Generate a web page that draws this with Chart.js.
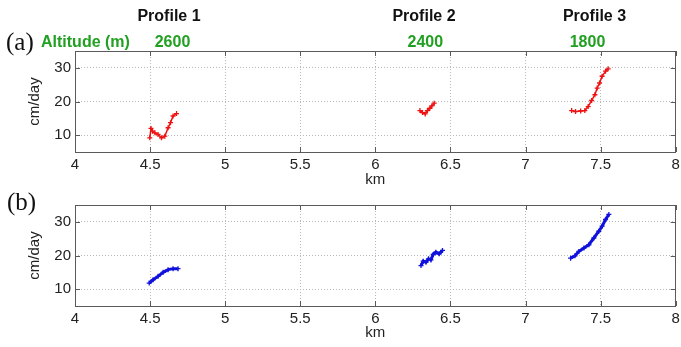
<!DOCTYPE html>
<html><head><meta charset="utf-8">
<script src="https://cdn.jsdelivr.net/npm/chart.js"></script>
<style>
body{margin:0;background:#fff;width:681px;height:347px;overflow:hidden;position:relative}
canvas{position:absolute;left:0}
#c1{top:0}
#c2{top:190px}
</style></head>
<body>
<canvas id="c1" width="681" height="190" style="width:681px;height:190px"></canvas>
<canvas id="c2" width="681" height="157" style="width:681px;height:157px"></canvas>
<script>
// ---- data (km, cm/day) ----
const profileNames = ['Profile 1', 'Profile 2', 'Profile 3'];
const altitudes = ['2600', '2400', '1800'];
const xTicks = [4, 4.5, 5, 5.5, 6, 6.5, 7, 7.5, 8];
const yTicks = [10, 20, 30];

const a1x = [4.498, 4.506, 4.516, 4.532, 4.553, 4.576, 4.598, 4.62, 4.636, 4.653, 4.676];
const a1y = [9.2, 12.0, 11.2, 10.7, 10.2, 9.2, 9.7, 12.2, 13.7, 15.7, 16.4];
const a2x = [6.297, 6.314, 6.332, 6.347, 6.363, 6.376, 6.392];
const a2y = [17.3, 16.7, 16.3, 17.3, 18.0, 18.7, 19.5];
const a3x = [7.307, 7.333, 7.367, 7.395, 7.417, 7.44, 7.462, 7.477, 7.493, 7.51, 7.533, 7.55];
const a3y = [17.3, 17.0, 17.2, 17.3, 18.5, 20.3, 22.0, 24.0, 25.5, 27.5, 29.0, 29.7];

const b1x = [4.494, 4.52, 4.553, 4.587, 4.62, 4.653, 4.686];
const b1y = [11.8, 12.8, 13.8, 15.0, 15.8, 16.1, 16.1];
const b2x = [6.304, 6.319, 6.337, 6.354, 6.37, 6.385, 6.403, 6.425, 6.447];
const b2y = [17.0, 18.3, 18.0, 19.0, 18.7, 20.3, 21.0, 20.5, 21.5];
const b3x = [7.30, 7.329, 7.355, 7.389, 7.422, 7.455, 7.488, 7.51, 7.533, 7.555];
const b3y = [19.2, 19.9, 21.2, 22.2, 23.2, 25.2, 27.2, 28.7, 30.7, 32.2];

const pts = (xs, ys) => xs.map((x, i) => ({x: x, y: ys[i]}));

function ds(xs, ys, color, lw, pr) {
  return {data: pts(xs, ys), borderColor: color, backgroundColor: color,
    borderWidth: lw, pointStyle: 'cross', pointRadius: pr, pointBorderWidth: 1.3,
    showLine: true, tension: 0, fill: false};
}

const framePlugin = {
  id: 'frame',
  afterDatasetsDraw(chart) {
    const {ctx, chartArea: a, scales} = chart;
    ctx.save();
    ctx.strokeStyle = '#5a5a5a';
    ctx.lineWidth = 1;
    ctx.strokeRect(Math.round(a.left) + 0.5, Math.round(a.top) + 0.5,
      Math.round(a.right - a.left) - 1, Math.round(a.bottom - a.top));
    ctx.beginPath();
    xTicks.forEach(v => {
      const px = Math.round(scales.x.getPixelForValue(v)) + 0.5;
      ctx.moveTo(px, a.bottom); ctx.lineTo(px, a.bottom - 5);
      ctx.moveTo(px, a.top); ctx.lineTo(px, a.top + 5);
    });
    yTicks.forEach(v => {
      const py = Math.round(scales.y.getPixelForValue(v)) + 0.5;
      ctx.moveTo(a.left, py); ctx.lineTo(a.left + 5, py);
      ctx.moveTo(a.right, py); ctx.lineTo(a.right - 5, py);
    });
    ctx.stroke();
    ctx.restore();
  }
};

function textPlugin(items) {
  return {
    id: 'texts',
    afterDraw(chart) {
      const ctx = chart.ctx;
      ctx.save();
      items.forEach(t => {
        ctx.font = t.font; ctx.fillStyle = t.color;
        ctx.textAlign = t.align; ctx.textBaseline = 'middle';
        ctx.fillText(t.text, t.x, t.y);
      });
      ctx.restore();
    }
  };
}

const fontFam = '"Liberation Sans", Arial, sans-serif';

function makeChart(id, datasets, topPad, xHeight, titlePadBottom, texts) {
  return new Chart(document.getElementById(id), {
    type: 'scatter',
    data: {datasets: datasets},
    options: {
      responsive: false, animation: false,
      layout: {padding: {top: topPad, right: 0, left: 0, bottom: 0}},
      plugins: {legend: {display: false}, tooltip: {enabled: false}},
      scales: {
        x: {
          type: 'linear', min: 4, max: 8,
          afterFit: s => { s.height = xHeight; s.paddingRight = 4; s.paddingLeft = 0; },
          afterBuildTicks: s => { s.ticks = xTicks.map(v => ({value: v})); },
          grid: {color: '#b8b8b8', lineWidth: 1, drawTicks: false},
          border: {display: false, dash: [1, 2]},
          ticks: {autoSkip: false, maxRotation: 0, padding: 4, color: '#222',
                  font: {family: fontFam, size: 15},
                  callback: v => String(v)},
          title: {display: true, text: 'km', color: '#222',
                  font: {family: fontFam, size: 15},
                  padding: {top: 0, bottom: titlePadBottom}}
        },
        y: {
          type: 'linear', min: 5, max: 35,
          afterFit: s => { s.width = 75; },
          afterBuildTicks: s => { s.ticks = yTicks.map(v => ({value: v})); },
          grid: {color: '#b8b8b8', lineWidth: 1, drawTicks: false},
          border: {display: false, dash: [1, 2]},
          ticks: {padding: 4, color: '#222',
                  font: {family: fontFam, size: 15}},
          title: {display: true, text: 'cm/day', color: '#222',
                  font: {family: fontFam, size: 15},
                  padding: {top: 26, bottom: 0}}
        }
      }
    },
    plugins: [framePlugin, textPlugin(texts)]
  });
}

const bold = 'bold 16px ' + fontFam;
const green = '#22a022';
const texts1 = [
  {text: '(a)', x: 6, y: 43, font: '25px "Liberation Serif", "Times New Roman", serif', color: '#111', align: 'left'},
  {text: 'Altitude (m)', x: 41, y: 43, font: bold, color: green, align: 'left'},
  {text: profileNames[0], x: 169, y: 17, font: bold, color: '#111', align: 'center'},
  {text: profileNames[1], x: 424, y: 17, font: bold, color: '#111', align: 'center'},
  {text: profileNames[2], x: 594.5, y: 17, font: bold, color: '#111', align: 'center'},
  {text: altitudes[0], x: 172.5, y: 43, font: bold, color: green, align: 'center'},
  {text: altitudes[1], x: 425.3, y: 43, font: bold, color: green, align: 'center'},
  {text: altitudes[2], x: 587.5, y: 43, font: bold, color: green, align: 'center'}
];
const texts2 = [
  {text: '(b)', x: 7, y: 13, font: '25px "Liberation Serif", "Times New Roman", serif', color: '#111', align: 'left'}
];

const red = '#ee1111', blue = '#1111dd';
new Chart.constructor; // no-op reference
makeChart('c1', [ds(a1x, a1y, red, 1.5, 2.5), ds(a2x, a2y, red, 1.5, 2.5), ds(a3x, a3y, red, 1.5, 2.5)], 51, 38, 1, texts1);
makeChart('c2', [ds(b1x, b1y, blue, 3, 2.5), ds(b2x, b2y, blue, 3, 2.5), ds(b3x, b3y, blue, 3, 2.5)], 15, 41, 5, texts2);
</script>
</body></html>
